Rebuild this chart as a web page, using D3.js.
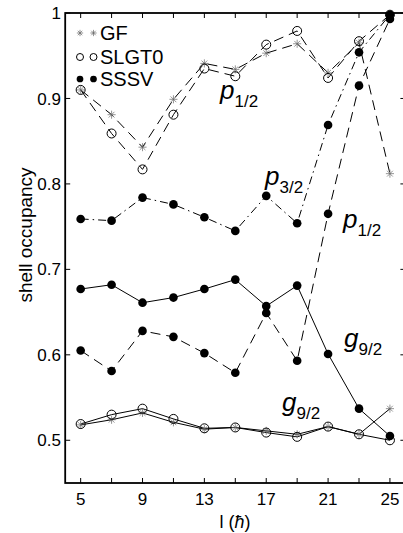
<!DOCTYPE html>
<html>
<head>
<meta charset="utf-8">
<script src="https://cdn.jsdelivr.net/npm/d3@7"></script>
<style>
  html, body { margin: 0; padding: 0; background: #fff; }
  svg { display: block; font-family: "Liberation Sans", Arial, sans-serif; }
</style>
</head>
<body>
<svg id="chart" width="403" height="533"></svg>
<script>
// Angular momentum values (hbar)
const spins = [5, 7, 9, 11, 13, 15, 17, 19, 21, 23, 25];

// p1/2 shell occupancy, top group
const gfP12   = [0.910, 0.881, 0.843, 0.899, 0.941, 0.934, 0.953, 0.964, 0.930, 0.965, 0.812];
const slgtP12 = [0.910, 0.859, 0.817, 0.881, 0.935, 0.926, 0.963, 0.979, 0.924, 0.967, 0.998];

// SSSV occupancies
const sssvP32 = [0.759, 0.757, 0.784, 0.776, 0.761, 0.745, 0.786, 0.754, 0.869, 0.954, 0.998];
const sssvP12 = [0.605, 0.581, 0.628, 0.621, 0.602, 0.579, 0.649, 0.593, 0.765, 0.915, 0.993];
const sssvG92 = [0.677, 0.682, 0.661, 0.667, 0.677, 0.688, 0.657, 0.681, 0.601, 0.537, 0.505];

// g9/2 shell occupancy, bottom group
const gfG92   = [0.518, 0.524, 0.532, 0.521, 0.513, 0.515, 0.511, 0.507, 0.516, 0.507, 0.537];
const slgtG92 = [0.519, 0.530, 0.537, 0.525, 0.514, 0.515, 0.509, 0.504, 0.516, 0.507, 0.500];

// Axis ticks
const xTicks = [5, 7, 9, 11, 13, 15, 17, 19, 21, 23, 25];
const xTickLabels = [5, 9, 13, 17, 21, 25];
const yTicks = [0.5, 0.6, 0.7, 0.8, 0.9, 1.0];

const svg = d3.select("#chart");
const x = d3.scaleLinear().domain([4, 26]).range([65.2, 405.4]);
const y = d3.scaleLinear().domain([0.45, 1.0]).range([483, 13]);

const DASH = "10,6";
const DASHDOT = "8,4,1.5,4";

const series = [
  { vals: gfP12,   marker: "star",   dash: DASH },
  { vals: slgtP12, marker: "circle", dash: DASH },
  { vals: sssvP32, marker: "dot",    dash: DASHDOT },
  { vals: sssvP12, marker: "dot",    dash: DASH },
  { vals: sssvG92, marker: "dot",    dash: null },
  { vals: gfG92,   marker: "star",   dash: null },
  { vals: slgtG92, marker: "circle", dash: null }
];

const line = d3.line().x((d, i) => x(spins[i])).y(d => y(d));

const plot = svg.append("g");

series.forEach(s => {
  plot.append("path")
    .attr("d", line(s.vals))
    .attr("fill", "none")
    .attr("stroke", "#000")
    .attr("stroke-width", 1)
    .attr("stroke-dasharray", s.dash);
});

function drawMarker(g, kind, cx, cy, size) {
  if (kind === "dot") {
    g.append("circle").attr("cx", cx).attr("cy", cy).attr("r", size * 0.48)
      .attr("fill", "#000");
  } else if (kind === "circle") {
    g.append("circle").attr("cx", cx).attr("cy", cy).attr("r", size * 0.5)
      .attr("fill", "none").attr("stroke", "#000").attr("stroke-width", 1);
  } else {
    const r = size * 0.45;
    let d = "";
    for (let k = 0; k < 4; k++) {
      const a = k * Math.PI / 4;
      d += `M${cx - r * Math.cos(a)},${cy - r * Math.sin(a)}L${cx + r * Math.cos(a)},${cy + r * Math.sin(a)}`;
    }
    g.append("path").attr("d", d).attr("stroke", "#666").attr("stroke-width", 0.7)
      .attr("fill", "none");
  }
}

series.forEach(s => {
  s.vals.forEach((v, i) => drawMarker(plot, s.marker, x(spins[i]), y(v), 9));
});

// Frame
const [x0, x1] = x.range();
const [yb, yt] = y.range();
svg.append("rect").attr("x", x0).attr("y", yt).attr("width", x1 - x0).attr("height", yb - yt)
  .attr("fill", "none").attr("stroke", "#000").attr("stroke-width", 1.8);

// Ticks (inward on all four sides)
const tl = 5;
const ticks = svg.append("g").attr("stroke", "#000").attr("stroke-width", 1);
xTicks.forEach(t => {
  ticks.append("line").attr("x1", x(t)).attr("x2", x(t)).attr("y1", yb).attr("y2", yb - tl);
  ticks.append("line").attr("x1", x(t)).attr("x2", x(t)).attr("y1", yt).attr("y2", yt + tl);
});
yTicks.forEach(t => {
  ticks.append("line").attr("x1", x0).attr("x2", x0 + tl).attr("y1", y(t)).attr("y2", y(t));
  ticks.append("line").attr("x1", x1).attr("x2", x1 - tl).attr("y1", y(t)).attr("y2", y(t));
});

// Tick labels
svg.append("g").selectAll("text").data(xTickLabels).join("text")
  .attr("x", d => x(d)).attr("y", 505).attr("text-anchor", "middle")
  .attr("font-size", 17).text(d => d);
svg.append("g").selectAll("text").data(yTicks).join("text")
  .attr("x", 61).attr("y", d => y(d)).attr("dy", "0.36em").attr("text-anchor", "end")
  .attr("font-size", 17).text(d => d === 1 ? "1" : d3.format(".1f")(d));

// Axis titles
const xl = svg.append("text").attr("x", 235).attr("y", 528).attr("text-anchor", "middle")
  .attr("font-size", 18);
xl.append("tspan").text("l (");
xl.append("tspan").attr("font-style", "italic").text("ħ");
xl.append("tspan").text(")");

svg.append("text").attr("transform", "translate(32,235) rotate(-90)")
  .attr("text-anchor", "middle").attr("font-size", 19).text("shell occupancy");

// Legend
const legendItems = [
  { label: "GF", marker: "star", yy: 33 },
  { label: "SLGT0", marker: "circle", yy: 57 },
  { label: "SSSV", marker: "dot", yy: 79 }
];
const lg = svg.append("g");
legendItems.forEach(it => {
  drawMarker(lg, it.marker, 80, it.yy, 7);
  drawMarker(lg, it.marker, 93.5, it.yy, 7);
  lg.append("text").attr("x", 100).attr("y", it.yy).attr("dy", "0.36em")
    .attr("font-size", 20).text(it.label);
});

// Orbital labels
const orbLabels = [
  { base: "p", sub: "1/2", px: 220, py: 99 },
  { base: "p", sub: "3/2", px: 265, py: 185 },
  { base: "p", sub: "1/2", px: 343, py: 228 },
  { base: "g", sub: "9/2", px: 344, py: 347 },
  { base: "g", sub: "9/2", px: 282, py: 411 }
];
orbLabels.forEach(o => {
  const t = svg.append("text").attr("x", o.px).attr("y", o.py);
  t.append("tspan").attr("font-size", 26).attr("font-style", "italic").text(o.base);
  t.append("tspan").attr("font-size", 17).attr("dy", 8).text(o.sub);
});
</script>
</body>
</html>
